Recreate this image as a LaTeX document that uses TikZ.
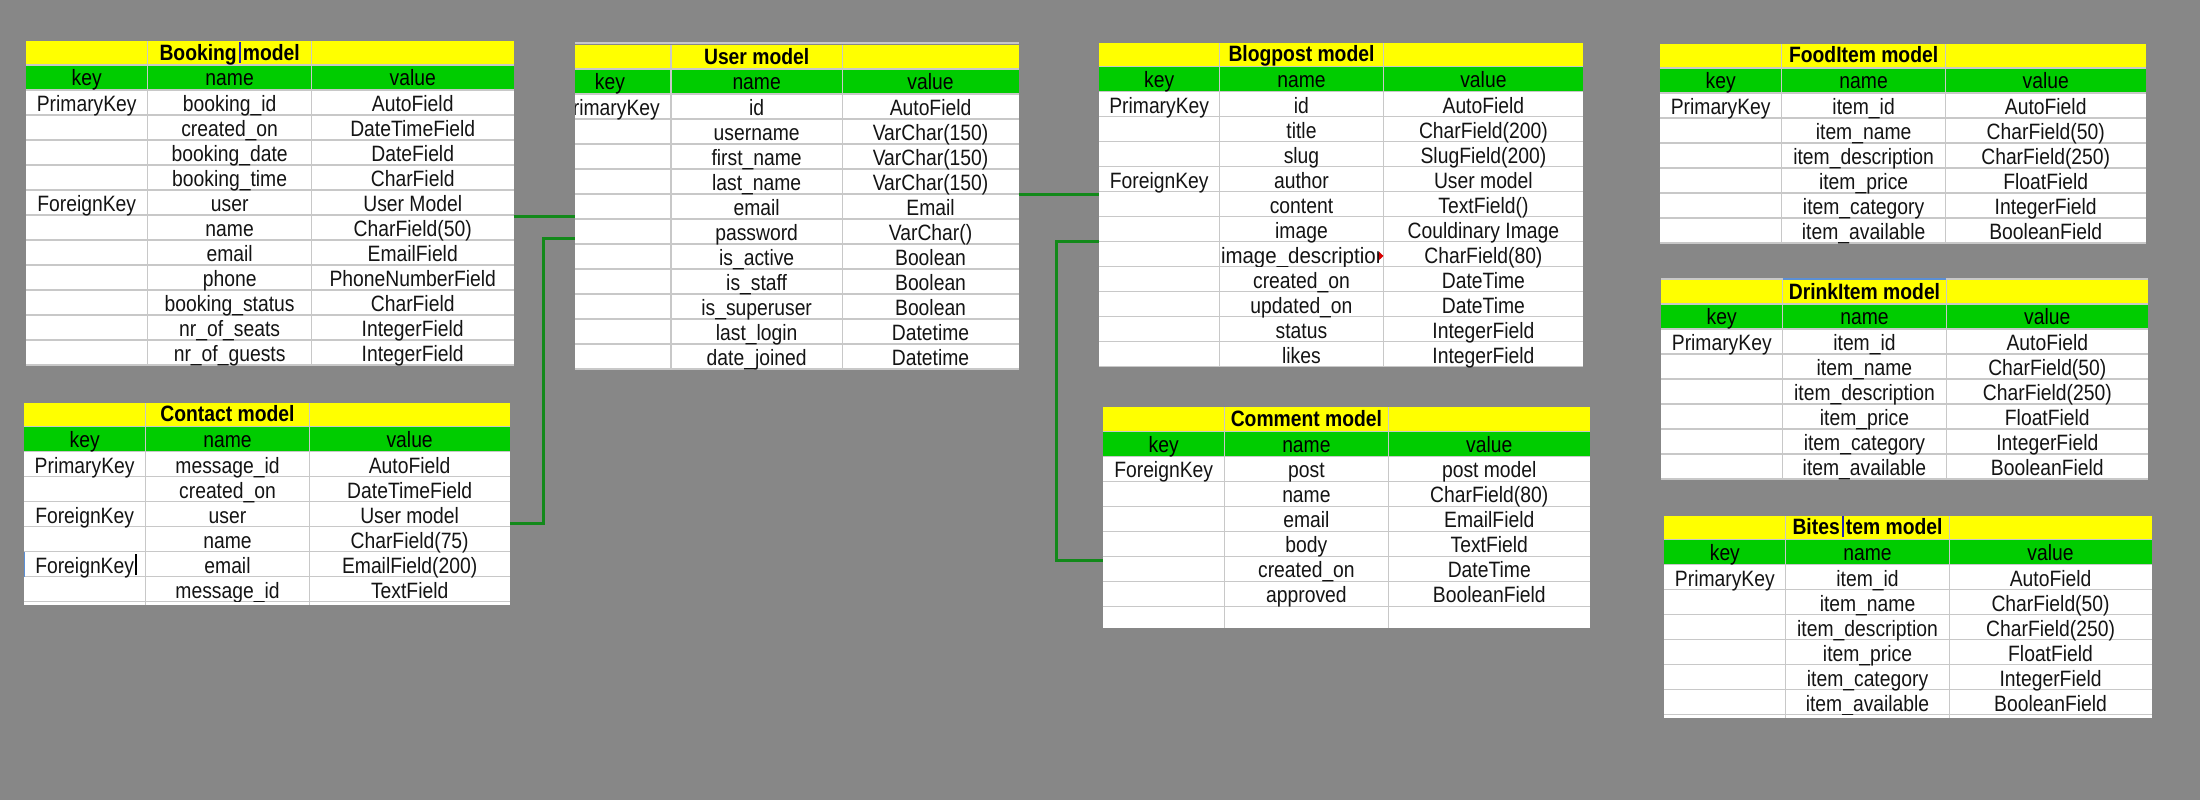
\documentclass[tikz,border=0pt]{standalone}
\usepackage{fontspec}
\setmainfont{Liberation Sans}[FakeStretch=0.87]
\usetikzlibrary{fit}

\definecolor{bg}{HTML}{878787}
\definecolor{ttl}{HTML}{FFFF00}
\definecolor{hdr}{HTML}{00CC00}
\definecolor{gridc}{HTML}{C8C8C8}
\definecolor{txt}{HTML}{141414}
\definecolor{linkc}{HTML}{12891A}
\definecolor{caret}{HTML}{2323B8}
\definecolor{selc}{HTML}{5B8FD6}

\newcommand\cellsize{\fontsize{22.2pt}{24pt}\selectfont}
% text cursor standing in a gap of the title
\newcommand\caretgap{\hbox to .278em{\hss\textcolor{caret}{\rule[-2.5pt]{1.6pt}{21pt}}\hss}}
% text cursor right after a cell text
\newcommand\kcaret{\rlap{\kern1pt\textcolor{black}{\rule[-2pt]{1.6pt}{21pt}}}}

% #1 name, #2-#5 column edges, #6 top, #7 number of rows, #8 title, #9 rows key/name/value
\newcommand\mtable[9]{%
  \pgfmathsetmacro\tbot{#6+49+25*#7}
  \fill[ttl] (#2,#6) rectangle (#5,#6+24);
  \fill[hdr] (#2,#6+24) rectangle (#5,#6+49);
  \fill[white] (#2,#6+49) rectangle (#5,\tbot);
  \draw[gridline] (#2,#6+24) -- (#5,#6+24);
  \draw[gridline] (#2,#6+49) -- (#5,#6+49);
  \foreach \rr in {1,...,#7}
    \draw[gridline] (#2,#6+49+25*\rr) -- (#5,#6+49+25*\rr);
  \draw[gridline] (#3,#6) -- (#3,\tbot) (#4,#6) -- (#4,\tbot);
  \node[ttltext] (#1-title) at ({(#3+#4)/2},#6+19) {#8};
  \node[hdtext] (#1-hk) at ({(#2+#3)/2},#6+44.7) {key};
  \node[hdtext] (#1-hn) at ({(#3+#4)/2},#6+44.7) {name};
  \node[hdtext] (#1-hv) at ({(#4+#5)/2},#6+44.7) {value};
  \foreach \kk/\nn/\vv [count=\i] in {#9} {
    \node[celltext] (#1-k\i) at ({(#2+#3)/2},#6+49+25*\i-3.5) {\kk};
    \node[celltext] (#1-n\i) at ({(#3+#4)/2},#6+49+25*\i-3.5) {\nn};
    \node[celltext] (#1-v\i) at ({(#4+#5)/2},#6+49+25*\i-3.5) {\vv};
  }
  \coordinate (#1-nw) at (#2,#6);
  \coordinate (#1-se) at (#5,\tbot);
}

% a strip of the next, empty spreadsheet row under a table
\newcommand\strip[6]{%
  \fill[white] (#1,#5+0.7) rectangle (#4,#6);
  \draw[gridline] (#2,#5) -- (#2,#6) (#3,#5) -- (#3,#6);
}

\begin{document}
\begin{tikzpicture}[x=1pt,y=-1pt,
  gridline/.style={draw=gridc, line width=1.3pt},
  celltext/.style={anchor=base, inner sep=0pt, font=\cellsize, text=txt},
  hdtext/.style={celltext, text=black},
  ttltext/.style={celltext, font=\cellsize\bfseries, text=black},
  tablebox/.style={inner sep=0pt, draw=none},
  link/.style={draw=linkc, line width=3pt}]

\fill[bg] (0,0) rectangle (2200,800);
\useasboundingbox (0,0) rectangle (2200,800);

% ---------- Booking ----------
\mtable{booking}{26}{147.5}{311.8}{513.6}{41}{11}{Booking\caretgap{}model}{%
  PrimaryKey/booking\_id/AutoField,
  /created\_on/DateTimeField,
  /booking\_date/DateField,
  /booking\_time/CharField,
  ForeignKey/user/User Model,
  /name/CharField(50),
  /email/EmailField,
  /phone/PhoneNumberField,
  /booking\_status/CharField,
  /nr\_of\_seats/IntegerField,
  /nr\_of\_guests/IntegerField}
\node[tablebox, fit=(booking-nw)(booking-se)] (booking) {};

% ---------- Contact ----------
\mtable{contact}{23.6}{145.7}{309.3}{510}{402.7}{6}{Contact model}{%
  PrimaryKey/message\_id/AutoField,
  /created\_on/DateTimeField,
  ForeignKey/user/User model,
  /name/CharField(75),
  ForeignKey\kcaret/email/EmailField(200),
  /message\_id/TextField}
\strip{23.6}{145.7}{309.3}{510}{601.7}{605}
\draw[draw=selc, line width=1.3pt] (24.3,551.7) -- (24.3,576.7);
\node[tablebox, fit=(contact-nw)(contact-se)] (contact) {};

% ---------- User ----------
\draw[gridline, line width=2pt] (575,43.2) -- (1018.7,43.2);
\begin{scope}
  \clip (575,0) rectangle (2200,800);
  \mtable{user}{549}{670.9}{842.4}{1018.7}{45}{11}{User model}{%
    PrimaryKey/id/AutoField,
    /username/VarChar(150),
    /first\_name/VarChar(150),
    /last\_name/VarChar(150),
    /email/Email,
    /password/VarChar(),
    /is\_active/Boolean,
    /is\_staff/Boolean,
    /is\_superuser/Boolean,
    /last\_login/Datetime,
    /date\_joined/Datetime}
\end{scope}
\node[tablebox, fit={(575,45) (user-se)}] (user) {};

% ---------- Blogpost ----------
\mtable{blog}{1098.9}{1219.5}{1383.4}{1583.4}{42.7}{11}{Blogpost model}{%
  PrimaryKey/id/AutoField,
  /title/CharField(200),
  /slug/SlugField(200),
  ForeignKey/author/User model,
  /content/TextField(),
  /image/Couldinary Image,
  //CharField(80),
  /created\_on/DateTime,
  /updated\_on/DateTime,
  /status/IntegerField,
  /likes/IntegerField}
\begin{scope}
  \clip (1220.2,241.7) rectangle (1379.5,266.7);
  \node[celltext, anchor=base west] (blog-desc) at (1220.8,263.2)
    {\scalebox{1.06}[1]{image\_description}};
\end{scope}
\fill[red!85!black] (1379,251.6) -- (1383.4,255.9) -- (1379,260.2) -- cycle;
\node[tablebox, fit=(blog-nw)(blog-se)] (blog) {};

% ---------- Comment ----------
\mtable{comment}{1102.7}{1224.6}{1388.2}{1590.3}{407.3}{6}{Comment model}{%
  ForeignKey/post/post model,
  /name/CharField(80),
  /email/EmailField,
  /body/TextField,
  /created\_on/DateTime,
  /approved/BooleanField}
\strip{1102.7}{1224.6}{1388.2}{1590.3}{606.3}{627.7}
\node[tablebox, fit=(comment-nw)(comment-se)] (comment) {};

% ---------- Menu items ----------
\mtable{food}{1659.6}{1781.8}{1945.4}{2146}{44}{6}{FoodItem model}{%
  PrimaryKey/item\_id/AutoField,
  /item\_name/CharField(50),
  /item\_description/CharField(250),
  /item\_price/FloatField,
  /item\_category/IntegerField,
  /item\_available/BooleanField}
\node[tablebox, fit=(food-nw)(food-se)] (food) {};

\draw[gridline, line width=2pt] (1661,278.6) -- (2148.2,278.6);
\draw[draw=selc, line width=2pt] (1782.5,278.6) -- (1946.4,278.6);
\mtable{drink}{1661}{1782.5}{1946.4}{2148.2}{280}{6}{DrinkItem model}{%
  PrimaryKey/item\_id/AutoField,
  /item\_name/CharField(50),
  /item\_description/CharField(250),
  /item\_price/FloatField,
  /item\_category/IntegerField,
  /item\_available/BooleanField}
\node[tablebox, fit=(drink-nw)(drink-se)] (drink) {};

\mtable{bites}{1664}{1785.7}{1949.3}{2151.8}{515.7}{6}{Bites\caretgap{}tem model}{%
  PrimaryKey/item\_id/AutoField,
  /item\_name/CharField(50),
  /item\_description/CharField(250),
  /item\_price/FloatField,
  /item\_category/IntegerField,
  /item\_available/BooleanField}
\strip{1664}{1785.7}{1949.3}{2151.8}{714.7}{717.7}
\node[tablebox, fit=(bites-nw)(bites-se)] (bites) {};

% ---------- Relations ----------
\coordinate (j1) at (0,216.7);
\coordinate (j2) at (543.6,523.3);
\coordinate (j2b) at (0,238);
\coordinate (j3) at (0,194.3);
\coordinate (j4) at (1056,241.7);
\coordinate (j4b) at (0,560);

\draw[link] (booking.east |- j1) -- (user.west |- j1);
\draw[link] (contact.east |- j2) -- (j2) -- (j2 |- j2b) -- (user.west |- j2b);
\draw[link] (user.east |- j3) -- (blog.west |- j3);
\draw[link] (blog.west |- j4) -- (j4) -- (j4 |- j4b) -- (comment.west |- j4b);

\end{tikzpicture}
\end{document}
